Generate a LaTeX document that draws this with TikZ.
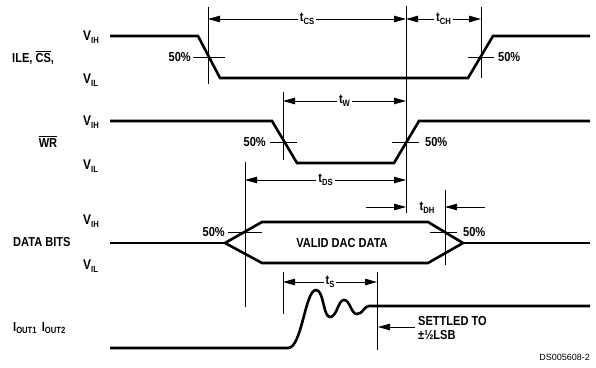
\documentclass[tikz,border=0pt]{standalone}
\usepackage{fontspec}
\newfontfamily\tdfont{Liberation Sans Bold}[FakeStretch=0.85]
\newfontfamily\dsfont{Liberation Sans}
\usetikzlibrary{arrows.meta}
\newcommand{\sub}[1]{\raisebox{-2.5pt}{\fontsize{9}{9}\selectfont #1}}
\newcommand{\vlev}[1]{{\fontsize{14}{14}\selectfont V}\sub{#1}}
\newcommand{\ovline}[1]{\vbox{\hrule height 0.9pt \kern 1.2pt \hbox{#1}}}

\begin{document}
\begin{tikzpicture}[x=1pt,y=-1pt]
        \tikzset{>={Triangle[length=12pt,width=6.5pt]}}
        \tikzstyle{wave}=[line width=2.6pt,line join=miter]
        \tikzstyle{guide}=[line width=0.8pt]
        \tikzstyle{dim}=[guide,<->]
        \tikzstyle{lbl}=[font=\tdfont\fontsize{13}{13}\selectfont,inner sep=0pt]
        \tikzstyle{tlbl}=[lbl,fill=white,inner xsep=2pt,inner ysep=1pt]

        \useasboundingbox (0,0) rectangle (596,367);

        \node [lbl,anchor=west] (ilecs) at (12,58) {ILE, \ovline{CS},};
        \node [lbl,anchor=west] (vih1) at (83,37) {\vlev{IH}};
        \node [lbl,anchor=west] (vil1) at (83,80) {\vlev{IL}};
        \draw [wave] (110,36) -- (198,36) -- (220,78) -- (468,78) -- (493,36) -- (590,36);
        \draw [guide] (208,7) -- (208,84);
        \draw [guide] (481,7) -- (481,78);
        \draw [guide] (406,6) -- (406,213);
        \draw [guide] (193,57) -- (225,57);
        \draw [guide] (468,57) -- (494,57);
        \node [lbl,anchor=east] (p1a) at (191,57) {50\%};
        \node [lbl,anchor=west] (p1b) at (498,57) {50\%};
        \coordinate (cs0) at (208,19);
        \coordinate (cs1) at (406,19);
        \coordinate (ch1) at (481,19);
        \draw [dim] (cs0) -- node[tlbl] (tcs) {t\sub{CS}} (cs1);
        \draw [dim] (cs1) -- node[tlbl] (tch) {t\sub{CH}} (ch1);

        \node [lbl,anchor=center] (wr) at (48,142) {\ovline{WR}};
        \node [lbl,anchor=west] (vih2) at (83,122) {\vlev{IH}};
        \node [lbl,anchor=west] (vil2) at (83,166) {\vlev{IL}};
        \draw [wave] (110,121) -- (272,121) -- (297,163) -- (394,163) -- (419,121) -- (590,121);
        \draw [guide] (283,92) -- (283,160);
        \draw [guide] (270,142) -- (297,142);
        \draw [guide] (392,142) -- (419,142);
        \node [lbl,anchor=east] (p2a) at (266,142) {50\%};
        \node [lbl,anchor=west] (p2b) at (425,142) {50\%};
        \coordinate (w0) at (283,101);
        \coordinate (w1) at (406,101);
        \draw [dim] (w0) -- node[tlbl] (tw) {t\sub{W}} (w1);

        \draw [guide] (245,162) -- (245,307);
        \draw [guide] (445,190) -- (445,265);
        \coordinate (ds0) at (245,180);
        \coordinate (ds1) at (406,180);
        \draw [dim] (ds0) -- node[tlbl] (tds) {t\sub{DS}} (ds1);
        \coordinate (dhl) at (366,207);
        \coordinate (dh0) at (406,207);
        \coordinate (dhr) at (485,207);
        \coordinate (dh1) at (445,207);
        \draw [guide,->] (dhl) -- (dh0);
        \draw [guide,->] (dhr) -- (dh1);
        \node [lbl] (tdh) at (427,208) {t\sub{DH}};

        \node [lbl,anchor=west] (bits) at (13,242) {DATA BITS};
        \node [lbl,anchor=west] (vih3) at (83,221) {\vlev{IH}};
        \node [lbl,anchor=west] (vil3) at (83,266) {\vlev{IL}};
        \draw [wave] (110,243) -- (225,243);
        \draw [wave] (463,243) -- (590,243);
        \draw [wave] (225,243) -- (262,222) -- (428,222) -- (463,243) -- (428,263) -- (262,263) -- cycle;
        \draw [guide] (228,232) -- (262,232);
        \draw [guide] (430,232) -- (457,232);
        \node [lbl,anchor=east] (p3a) at (225,232) {50\%};
        \node [lbl,anchor=west] (p3b) at (463,232) {50\%};
        \node [lbl] (valid) at (342,243) {VALID DAC DATA};

        \node [lbl,anchor=west] (iout) at (13,328) {I\sub{OUT1} \,I\sub{OUT2}};
        \draw [wave] (110,348) -- (288,348) .. controls (302,348) and (305,290) .. (316,290)
              .. controls (324,290) and (323,317) .. (330,317)
              .. controls (337,317) and (338,300) .. (344,300)
              .. controls (350,300) and (351,314) .. (357,314)
              .. controls (363,314) and (364,306) .. (369,306) -- (590,306);
        \draw [guide] (283,272) -- (283,314);
        \draw [guide] (377,272) -- (377,350);
        \coordinate (s0) at (283,282);
        \coordinate (s1) at (377,282);
        \draw [dim] (s0) -- node[tlbl] (ts) {t\sub{S}} (s1);
        \coordinate (st0) at (415,327);
        \coordinate (st1) at (378,327);
        \draw [guide,->] (st0) -- (st1);
        \node [lbl,anchor=west] (settled) at (418,321) {SETTLED TO};
        \node [lbl,anchor=west] (lsb) at (418,335) {±½LSB};

        \node [font=\dsfont\fontsize{9}{9}\selectfont,inner sep=0pt,anchor=east] (dsno) at (590,357) {DS005608-2};
\end{tikzpicture}
\end{document}
